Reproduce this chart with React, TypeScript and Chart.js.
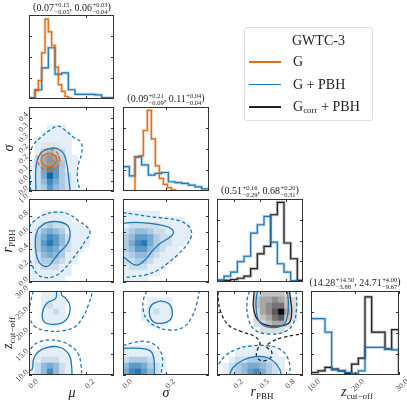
import React, { useEffect, useRef } from "react";
import { Chart, registerables } from "chart.js";
Chart.register(...registerables);

const W = 407;
const H = 404;
const FONT = "'Liberation Serif', 'DejaVu Serif', serif";
const BLUE = "#1f77b4";
const ORANGE = "#de6a12";
const BLACK = "#222222";

// ---------- axis ranges & ticks ----------
const muRange = [0, 0.3];
const sigRange = [0, 0.4];
const rRange = [0, 1];
const zRange = [10, 30];
const histRange = [0, 1];

const muTicks = [0, 0.2];
const muTickLabels = ["0.0", "0.2"];
const sigXTicks = [0, 0.2];
const sigXTickLabels = ["0.0", "0.2"];
const sigYTicks = [0, 0.05, 0.1, 0.15, 0.2, 0.25, 0.3, 0.35];
const sigYTickLabels = ["0.0", "0.0", "0.1", "0.2", "0.2", "0.3", "0.3", "0.4"];
const rXTicks = [0.2, 0.5, 0.8];
const rXTickLabels = ["0.2", "0.5", "0.8"];
const rYTicks = [0, 0.2, 0.4, 0.6, 0.8, 1.0];
const rYTickLabels = ["0.0", "0.2", "0.4", "0.6", "0.8", "1.0"];
const zXTicks = [10, 20, 30];
const zXTickLabels = ["10.0", "20.0", "30.0"];
const zYTicks = [10, 15, 20, 25, 30];
const zYTickLabels = ["10.0", "15.0", "20.0", "25.0", "30.0"];
const histTicks = [0.25, 0.5, 0.75];

// ---------- 1D histograms ----------
const muEdgesG = [0.0212, 0.0329, 0.0447, 0.0565, 0.0682, 0.08, 0.0918, 0.1035, 0.1153, 0.1271, 0.1388, 0.1506];
const muHistG = [0.1, 0.22, 0.55, 0.95, 0.8, 0.64, 0.38, 0.17, 0.09, 0.03, 0.01];
const muEdgesGP = [0, 0.0212, 0.0447, 0.0682, 0.0918, 0.1153, 0.1388, 0.1624, 0.1859, 0.2094, 0.2329, 0.2565, 0.28, 0.3];
const muHistGP = [0.016, 0.11, 0.37, 0.61, 0.295, 0.31, 0.11, 0.056, 0.056, 0.056, 0.048, 0.016, 0.016];

const sigEdgesG = [0.0558, 0.076, 0.0946, 0.1132, 0.1318, 0.1504, 0.169, 0.1876, 0.2062, 0.2248, 0.2434];
const sigHistG = [0.4, 0.42, 0.72, 0.96, 0.62, 0.3, 0.15, 0.08, 0.04, 0.015];
const sigEdgesGP = [0, 0.0295, 0.0558, 0.0868, 0.1178, 0.1488, 0.1798, 0.2109, 0.2419, 0.2729, 0.3039, 0.3349, 0.3659, 0.4];
const sigHistGP = [0.29, 0.18, 0.41, 0.31, 0.19, 0.21, 0.22, 0.11, 0.1, 0.09, 0.07, 0.05, 0.025];

const rEdges = [0, 0.0814, 0.159, 0.2364, 0.314, 0.3915, 0.469, 0.5465, 0.624, 0.7016, 0.779, 0.8566, 0.934, 1.0];
const rHistGP = [0.025, 0.07, 0.12, 0.245, 0.31, 0.59, 0.69, 0.79, 0.48, 0.22, 0.12, 0.016, 0.005];
const rHistGcP = [0.012, 0.02, 0.03, 0.045, 0.07, 0.16, 0.34, 0.43, 0.81, 0.96, 0.47, 0.28, 0.02];

const zEdges = [10, 11.59, 13.18, 14.7, 16.21, 17.73, 19.24, 20.76, 22.27, 23.79, 25.3, 26.82, 28.33, 30];
const zHistGP = [0.67, 0.67, 0.51, 0.06, 0.05, 0.03, 0.02, 0.05, 0.33, 0.33, 0.33, 0.31, 0.3];
const zHistGcP = [0.03, 0.05, 0.09, 0.07, 0.05, 0.02, 0.13, 0.2, 0.93, 0.51, 0.51, 0.31, 0.54];

// ---------- 2D density grids (14x14 bins, rows from bottom, 0-9) ----------
const NBIN = 14;
const muSigGridGP = [
  [1, 2, 3, 6, 4, 3, 2, 1],
  [1, 2, 4, 7, 5, 3, 2, 1],
  [1, 2, 5, 9, 6, 3, 2, 1],
  [1, 2, 5, 7, 6, 3, 1, 1],
  [1, 2, 4, 5, 5, 3, 1, 1],
  [0, 2, 4, 5, 4, 2, 1, 1],
  [0, 1, 2, 3, 2, 2, 1],
  [0, 1, 1, 1, 1, 1, 1],
  [0, 1, 1, 1, 1, 1, 1],
  [0, 0, 1, 1, 1, 1, 1],
  [0, 0, 0, 1, 1, 1],
];
const muSigGridG = [[], [], [], [0, 0, 1, 2, 1], [0, 1, 2, 4, 2, 1], [0, 1, 3, 5, 3, 1], [0, 0, 2, 3, 2], [0, 0, 1, 1, 1]];
const muRGridGP = [
  [1, 1, 1, 1, 1, 1],
  [1, 1, 1, 1, 1, 1, 1],
  [1, 1, 2, 2, 2, 1, 1],
  [1, 2, 3, 3, 3, 2, 1, 1],
  [1, 2, 4, 5, 4, 3, 1, 1],
  [1, 3, 5, 6, 5, 3, 2, 1, 1],
  [1, 3, 6, 8, 6, 4, 2, 1, 1, 1],
  [1, 3, 5, 7, 6, 4, 2, 1, 1, 1],
  [1, 2, 4, 5, 4, 3, 1, 1, 1, 1],
  [1, 1, 2, 3, 2, 2, 1, 1, 1],
  [0, 1, 1, 1, 1, 1, 1],
  [0, 0, 1, 1, 1, 1],
];
const muZGridGP = [
  [1, 2, 4, 7, 4, 2, 1],
  [1, 2, 4, 5, 4, 2, 1],
  [1, 1, 2, 2, 2, 1, 1],
  [0, 1, 1, 1, 1, 1],
  [0, 0, 1, 1, 1],
  [], [], [],
  [0, 0, 0, 1, 1],
  [0, 0, 1, 1, 1, 1],
  [0, 0, 1, 1, 2, 1],
  [0, 0, 1, 2, 1, 1],
  [0, 0, 1, 1, 1, 1],
  [0, 0, 1, 1, 1],
];
const sigRGridGP = [
  [1, 1, 1, 1],
  [1, 1, 1, 1, 1, 1],
  [1, 2, 2, 2, 1, 1, 1],
  [2, 2, 3, 3, 2, 1, 1, 1],
  [2, 3, 4, 4, 3, 2, 1, 1, 1],
  [3, 4, 6, 6, 4, 3, 2, 1, 1],
  [3, 5, 7, 8, 5, 3, 2, 2, 1, 1],
  [3, 4, 6, 6, 5, 3, 2, 2, 1, 1, 1],
  [2, 3, 4, 4, 3, 2, 2, 1, 1, 1, 1],
  [1, 2, 2, 2, 2, 2, 1, 1, 1, 1, 1],
  [1, 1, 1, 1, 1, 1, 1, 1, 1, 1],
  [1, 1, 1, 1, 1, 1],
];
const sigZGridGP = [
  [5, 7, 8, 6, 4, 2, 1],
  [4, 6, 6, 5, 3, 2, 1],
  [2, 3, 3, 3, 2, 1, 1],
  [1, 1, 1, 1, 1, 1],
  [1, 1, 1, 1, 1],
  [], [], [],
  [0, 0, 0, 0, 1, 1, 1],
  [0, 0, 0, 1, 1, 1, 1, 1],
  [0, 0, 0, 1, 1, 2, 1, 1],
  [0, 0, 0, 0, 1, 1, 1, 1],
  [0, 0, 0, 0, 1, 1, 1, 1],
];
const rZGridGP = [
  [0, 1, 2, 3, 4, 6, 7, 5, 3, 2, 1],
  [0, 1, 2, 3, 4, 5, 5, 4, 3, 2, 1],
  [0, 0, 1, 2, 2, 3, 3, 3, 2, 1, 1],
  [0, 0, 0, 1, 1, 1, 1, 1, 1, 1],
  [0, 0, 0, 0, 1, 1, 1, 1, 1],
];
const rZGridGcP = [
  [], [], [], [], [], [], [],
  [0, 0, 0, 0, 0, 0, 0, 1, 1, 1, 1],
  [0, 0, 0, 0, 0, 0, 1, 1, 2, 3, 3, 1],
  [0, 0, 0, 0, 0, 0, 1, 2, 3, 5, 6, 2, 1],
  [0, 0, 0, 0, 0, 0, 1, 3, 4, 6, 9, 3, 1],
  [0, 0, 0, 0, 0, 0, 2, 3, 4, 5, 5, 2, 1],
  [0, 0, 0, 0, 0, 0, 2, 3, 3, 4, 3, 2, 1],
  [0, 0, 0, 0, 0, 0, 1, 2, 2, 2, 2, 1],
];

// ---------- contours (x, y) ----------
const muSig_GP_68 = [[0.0247, 0], [0.0235, 0.092], [0.0294, 0.148], [0.0447, 0.184], [0.074, 0.203], [0.1035, 0.2], [0.1235, 0.175], [0.133, 0.132], [0.139, 0.076], [0.145, 0]];
const muSig_GP_95 = [[0.0059, 0], [0.0035, 0.076], [0.001, 0.163], [0.0153, 0.219], [0.0447, 0.259], [0.074, 0.29], [0.1035, 0.309], [0.133, 0.283], [0.162, 0.251], [0.1836, 0.232], [0.186, 0.179], [0.1753, 0.132], [0.1706, 0.068], [0.18, 0]];
const muSig_G_68 = [[0.0986, 0.148], [0.0904, 0.1706], [0.0706, 0.18], [0.0508, 0.1706], [0.0426, 0.148], [0.0508, 0.1254], [0.0706, 0.116], [0.0904, 0.1254], [0.0986, 0.148]];
const muSig_G_95 = [[0.1096, 0.148], [0.0982, 0.184], [0.0706, 0.199], [0.043, 0.184], [0.0316, 0.148], [0.043, 0.112], [0.0706, 0.097], [0.0982, 0.112], [0.1096, 0.148]];

const muR_GP_68 = [[0.033, 0.646], [0.0624, 0.715], [0.1094, 0.723], [0.1388, 0.667], [0.1447, 0.546], [0.133, 0.446], [0.1094, 0.365], [0.0859, 0.265], [0.0682, 0.193], [0.0447, 0.205], [0.0294, 0.285], [0.0224, 0.426], [0.0235, 0.546], [0.033, 0.646]];
const muR_GP_95 = [[0, 0.659], [0.0153, 0.727], [0.0506, 0.807], [0.0976, 0.843], [0.1388, 0.819], [0.1741, 0.739], [0.2059, 0.659], [0.2153, 0.586], [0.2012, 0.506], [0.1777, 0.386], [0.1506, 0.265], [0.1212, 0.145], [0.0918, 0.072], [0.0624, 0.052], [0.033, 0.084], [0.0129, 0.185], [0.0012, 0.285]];

const muZ_GP_68_lo = [[0, 11.1], [0.011, 11.3], [0.0165, 13.9], [0.033, 15.55], [0.0624, 16.51], [0.0976, 16.75], [0.127, 15.95], [0.1447, 14.37], [0.1506, 11.98], [0.1518, 10]];
const muZ_GP_95_lo = [[0, 14.76], [0.0118, 16.75], [0.0388, 17.94], [0.074, 18.33], [0.1153, 17.94], [0.1506, 16.75], [0.1741, 15.0], [0.1836, 12.38], [0.186, 10]];
const muZ_GP_68_hi = [[0.0976, 30], [0.094, 28.25], [0.0624, 27.06], [0.0471, 24.68], [0.0529, 22.7], [0.08, 22.06], [0.1188, 22.46], [0.1412, 24.29], [0.1435, 26.67], [0.1294, 28.25], [0.1153, 29.05], [0.1141, 30]];
const muZ_GP_95_hi = [[0.0153, 30], [0.0071, 27.86], [0.001, 25.08], [0.0035, 23.49], [0.0212, 21.51], [0.0624, 20.55], [0.1212, 20.55], [0.1624, 21.51], [0.1918, 23.89], [0.2094, 26.67], [0.2247, 29.84], [0.2259, 30]];

const sigR_GP_68 = [[0, 0.707], [0.048, 0.719], [0.1256, 0.707], [0.1876, 0.679], [0.2264, 0.639], [0.2341, 0.586], [0.2109, 0.526], [0.169, 0.458], [0.1333, 0.365], [0.1023, 0.265], [0.0713, 0.205], [0.045, 0.217], [0.0202, 0.265], [0, 0.305]];
const sigR_GP_95 = [[0, 0.835], [0.048, 0.819], [0.1256, 0.787], [0.2031, 0.767], [0.2651, 0.735], [0.3039, 0.675], [0.3194, 0.578], [0.2992, 0.458], [0.2574, 0.337], [0.2109, 0.233], [0.1643, 0.145], [0.1101, 0.088], [0.0558, 0.068], [0.0031, 0.052]];

const sigZ_GP_68_lo = [[0, 16.35], [0.0775, 16.35], [0.1256, 15.79], [0.1411, 14.52], [0.1457, 12.38], [0.1457, 10]];
const sigZ_GP_95_lo = [[0, 16.98], [0.048, 17.7], [0.1023, 18.02], [0.1488, 17.14], [0.1752, 15.55], [0.1845, 13.17], [0.1752, 10]];
const sigZ_GP_68_hi = [[0.1721, 27.62], [0.2109, 27.06], [0.2295, 25.08], [0.2186, 23.1], [0.1798, 22.3], [0.1411, 22.7], [0.1225, 24.68], [0.1333, 26.67], [0.1721, 27.62]];
const sigZ_GP_95_hi = [[0.1101, 30], [0.0946, 27.86], [0.0946, 25.32], [0.1132, 23.1], [0.1566, 21.51], [0.2186, 20.71], [0.2806, 21.35], [0.3194, 23.73], [0.3426, 26.9], [0.355, 30]];

const rZ_GP_68_lo = [[0.1434, 10], [0.19, 11.83], [0.306, 13.57], [0.4419, 14.37], [0.5775, 14.21], [0.6744, 12.94], [0.7326, 11.19], [0.7442, 10]];
const rZ_GP_95_lo = [[0, 11.19], [0.0155, 12.38], [0.093, 14.52], [0.2287, 16.11], [0.3837, 16.9], [0.5775, 16.98], [0.7326, 16.11], [0.8178, 14.21], [0.8488, 11.98], [0.8411, 10]];
const rZ_GP_68_hi = [[0.469, 30], [0.4535, 26.67], [0.4922, 22.7], [0.6163, 21.35], [0.7713, 21.9], [0.8178, 23.89], [0.8295, 27.06], [0.8178, 30]];
const rZ_GP_95_hi = [[0.376, 30], [0.3488, 27.46], [0.3643, 23.49], [0.4419, 20.71], [0.6163, 19.76], [0.7907, 20.32], [0.8876, 22.3], [0.9264, 26.27], [0.9186, 30]];
const rZ_GP_95_corner = [[0, 29.1], [0.025, 30]];
const rZ_Gc_68 = [[0.434, 30], [0.4225, 26.27], [0.469, 23.25], [0.5775, 21.9], [0.7326, 21.67], [0.8411, 22.46], [0.8682, 25.08], [0.8566, 27.86], [0.8411, 30]];
const rZ_Gc_95 = [[0.0155, 29.84], [0.0155, 27.86], [0.0426, 25.08], [0.1318, 21.9], [0.2868, 20.32], [0.4419, 19.13], [0.5, 17.54], [0.469, 15.95], [0.4612, 14.37], [0.5194, 13.41], [0.6163, 13.97], [0.6357, 15.55], [0.5775, 16.75], [0.6357, 17.94], [0.7713, 18.97], [0.907, 19.52], [1.0, 19.76]];

// ---------- titles ----------
const muTitle = [["0.07", "0.15", "0.05"], ["0.06", "0.03", "0.04"]];
const sigTitle = [["0.09", "0.21", "0.09"], ["0.11", "0.04", "0.04"]];
const rTitle = [["0.51", "0.16", "0.29"], ["0.68", "0.20", "0.31"]];
const zTitle = [["14.28", "14.50", "3.88"], ["24.71", "4.00", "9.67"]];

// ---------- layout (styles) ----------
const colX = [29, 123, 217, 311];
const colW = [85, 86, 86, 88];
const rowY = [15, 107, 199, 291];
const rowH = [84, 84, 83, 84];

function hexA(hex: string, a: number) {
  const n = parseInt(hex.slice(1), 16);
  return `rgba(${(n >> 16) & 255},${(n >> 8) & 255},${n & 255},${a})`;
}
const blueCell = (v: number) => {
  const t = v / 9;
  return `rgb(${Math.round(255 - 243 * t)},${Math.round(255 - 152 * t)},${Math.round(255 - 82 * t)})`;
};
const grayCell = (v: number) => {
  const g = Math.round(246 - (v / 9) * 236);
  return `rgb(${g},${g},${g})`;
};
const orangeCell = (v: number) => hexA(ORANGE, 0.07 * v);

function hist(edges: number[], h: number[], color: string) {
  const pts: any[] = [{ x: edges[0], y: 0 }];
  h.forEach((v, i) => {
    pts.push({ x: edges[i], y: v });
    pts.push({ x: edges[i + 1], y: v });
  });
  pts.push({ x: edges[edges.length - 1], y: 0 });
  return [
    { type: "line", data: pts, borderColor: hexA(color, 0.3), borderWidth: 3, pointRadius: 0, tension: 0, order: 1 },
    { type: "line", data: pts, borderColor: color, borderWidth: 1.2, pointRadius: 0, tension: 0, order: 0 },
  ];
}

function heat(grid: number[][], xr: number[], yr: number[], colorOf: (v: number) => string, order: number) {
  const dx = (xr[1] - xr[0]) / NBIN;
  const dy = (yr[1] - yr[0]) / NBIN;
  return grid.map((row, j) => {
    const cells = row.map((v, k) => ({ v, k })).filter((c) => c.v > 0);
    return {
      type: "bar",
      data: cells.map((c) => ({ x: xr[0] + (c.k + 0.5) * dx, y: [yr[0] + j * dy, yr[0] + (j + 1) * dy] })),
      backgroundColor: cells.map((c) => colorOf(c.v)),
      borderWidth: 0,
      grouped: false,
      categoryPercentage: 1,
      barPercentage: 1,
      order,
    };
  });
}

function contour(pts: number[][], color: string, dashed: boolean) {
  return {
    type: "line",
    data: pts.map(([x, y]) => ({ x, y })),
    borderColor: color,
    borderWidth: 1.3,
    borderDash: dashed ? [3.5, 2.5] : [],
    pointRadius: 0,
    tension: 0.4,
    fill: false,
    order: 0,
  };
}

const framePlugin = {
  id: "frame",
  afterDatasetsDraw(chart: any) {
    const { ctx, chartArea: a, scales } = chart;
    ctx.save();
    ctx.strokeStyle = "#333";
    ctx.lineWidth = 1;
    const L = 3;
    ctx.beginPath();
    scales.x.ticks.forEach((t: any) => {
      const p = Math.round(scales.x.getPixelForValue(t.value)) + 0.5;
      ctx.moveTo(p, a.bottom);
      ctx.lineTo(p, a.bottom - L);
      ctx.moveTo(p, a.top);
      ctx.lineTo(p, a.top + L);
    });
    scales.y.ticks.forEach((t: any) => {
      const p = Math.round(scales.y.getPixelForValue(t.value)) + 0.5;
      ctx.moveTo(a.left, p);
      ctx.lineTo(a.left + L, p);
      ctx.moveTo(a.right, p);
      ctx.lineTo(a.right - L, p);
    });
    ctx.stroke();
    ctx.strokeRect(a.left + 0.5, a.top + 0.5, a.width - 1, a.height - 1);
    ctx.restore();
  },
};

function axis(pos: "bottom" | "left", range: number[], ticks: number[], labels: string[] | null, size: number) {
  return {
    type: "linear",
    position: pos,
    min: range[0],
    max: range[1],
    offset: false,
    grid: { display: false, drawTicks: false },
    border: { display: false },
    afterBuildTicks: (s: any) => {
      s.ticks = ticks.map((v) => ({ value: v }));
    },
    afterFit: (s: any) => {
      if (pos === "bottom") s.height = size;
      else s.width = size;
      s.paddingLeft = 0;
      s.paddingRight = 0;
      s.paddingTop = 0;
      s.paddingBottom = 0;
    },
    ticks: {
      display: !!labels,
      autoSkip: false,
      minRotation: 45,
      maxRotation: 45,
      padding: 2,
      labelOffset: pos === "bottom" ? 8 : -4,
      font: { family: FONT, size: 8 },
      color: "#444",
      callback: (_v: any, i: number) => (labels ? labels[i] ?? "" : ""),
    },
  };
}

type Spec = {
  c: number; r: number;
  xr: number[]; yr: number[];
  xT: number[]; yT: number[];
  xL: string[] | null; yL: string[] | null;
  ds: any[];
};

const panels: Spec[] = [
  { c: 0, r: 0, xr: muRange, yr: histRange, xT: muTicks, yT: histTicks, xL: null, yL: null,
    ds: [...hist(muEdgesG, muHistG, ORANGE), ...hist(muEdgesGP, muHistGP, BLUE)] },
  { c: 0, r: 1, xr: muRange, yr: sigRange, xT: muTicks, yT: sigYTicks, xL: null, yL: sigYTickLabels,
    ds: [
      ...heat(muSigGridGP, muRange, sigRange, blueCell, 6),
      ...heat(muSigGridG, muRange, sigRange, orangeCell, 5),
      contour(muSig_GP_68, BLUE, false), contour(muSig_GP_95, BLUE, true),
      contour(muSig_G_68, ORANGE, false), contour(muSig_G_95, ORANGE, true),
    ] },
  { c: 1, r: 1, xr: sigRange, yr: histRange, xT: sigXTicks, yT: histTicks, xL: null, yL: null,
    ds: [...hist(sigEdgesG, sigHistG, ORANGE), ...hist(sigEdgesGP, sigHistGP, BLUE)] },
  { c: 0, r: 2, xr: muRange, yr: rRange, xT: muTicks, yT: rYTicks, xL: null, yL: rYTickLabels,
    ds: [...heat(muRGridGP, muRange, rRange, blueCell, 6), contour(muR_GP_68, BLUE, false), contour(muR_GP_95, BLUE, true)] },
  { c: 1, r: 2, xr: sigRange, yr: rRange, xT: sigXTicks, yT: rYTicks, xL: null, yL: null,
    ds: [...heat(sigRGridGP, sigRange, rRange, blueCell, 6), contour(sigR_GP_68, BLUE, false), contour(sigR_GP_95, BLUE, true)] },
  { c: 2, r: 2, xr: rRange, yr: histRange, xT: rXTicks, yT: histTicks, xL: null, yL: null,
    ds: [...hist(rEdges, rHistGP, BLUE), ...hist(rEdges, rHistGcP, BLACK)] },
  { c: 0, r: 3, xr: muRange, yr: zRange, xT: muTicks, yT: zYTicks, xL: muTickLabels, yL: zYTickLabels,
    ds: [
      ...heat(muZGridGP, muRange, zRange, blueCell, 6),
      contour(muZ_GP_68_lo, BLUE, false), contour(muZ_GP_95_lo, BLUE, true),
      contour(muZ_GP_68_hi, BLUE, false), contour(muZ_GP_95_hi, BLUE, true),
    ] },
  { c: 1, r: 3, xr: sigRange, yr: zRange, xT: sigXTicks, yT: zYTicks, xL: sigXTickLabels, yL: null,
    ds: [
      ...heat(sigZGridGP, sigRange, zRange, blueCell, 6),
      contour(sigZ_GP_68_lo, BLUE, false), contour(sigZ_GP_95_lo, BLUE, true),
      contour(sigZ_GP_68_hi, BLUE, false), contour(sigZ_GP_95_hi, BLUE, true),
    ] },
  { c: 2, r: 3, xr: rRange, yr: zRange, xT: rXTicks, yT: zYTicks, xL: rXTickLabels, yL: null,
    ds: [
      ...heat(rZGridGP, rRange, zRange, blueCell, 6),
      ...heat(rZGridGcP, rRange, zRange, grayCell, 6),
      contour(rZ_GP_68_lo, BLUE, false), contour(rZ_GP_95_lo, BLUE, true),
      contour(rZ_GP_68_hi, BLUE, false), contour(rZ_GP_95_hi, BLUE, true),
      contour(rZ_GP_95_corner, BLUE, true),
      contour(rZ_Gc_68, BLACK, false), contour(rZ_Gc_95, BLACK, true),
    ] },
  { c: 3, r: 3, xr: zRange, yr: histRange, xT: zXTicks, yT: histTicks, xL: zXTickLabels, yL: null,
    ds: [...hist(zEdges, zHistGP, BLUE), ...hist(zEdges, zHistGcP, BLACK)] },
];

function PanelChart({ spec }: { spec: Spec }) {
  const ref = useRef<HTMLCanvasElement>(null);
  useEffect(() => {
    const x0 = colX[spec.c], w = colW[spec.c], y0 = rowY[spec.r], h = rowH[spec.r];
    const below = H - y0 - h;
    const yAxisW = spec.yL ? x0 : 0;
    const xAxisH = spec.xL ? below : 0;
    const chart = new Chart(ref.current as HTMLCanvasElement, {
      type: "line",
      data: { datasets: spec.ds },
      options: {
        animation: false,
        responsive: false,
        devicePixelRatio: 1,
        events: [],
        layout: { autoPadding: false, padding: { left: x0 - yAxisW, top: y0, right: W - x0 - w, bottom: below - xAxisH } },
        plugins: { legend: { display: false }, tooltip: { enabled: false }, title: { display: false } },
        scales: {
          x: axis("bottom", spec.xr, spec.xT, spec.xL, xAxisH),
          y: axis("left", spec.yr, spec.yT, spec.yL, yAxisW),
        },
      } as any,
      plugins: [framePlugin],
    } as any);
    return () => chart.destroy();
  }, []);
  return (
    <canvas ref={ref} width={W} height={H}
      style={{ position: "absolute", left: 0, top: 0, width: W, height: H, pointerEvents: "none" }} />
  );
}

function Stat({ v }: { v: string[] }) {
  return (
    <span>
      {v[0]}
      <span style={{ display: "inline-flex", flexDirection: "column", fontSize: 6.5, lineHeight: "6.5px", verticalAlign: "3.5px", marginLeft: 0.5 }}>
        <span>+{v[1]}</span>
        <span>−{v[2]}</span>
      </span>
    </span>
  );
}

function Title({ vals, cx, cy }: { vals: string[][]; cx: number; cy: number }) {
  return (
    <div style={{ position: "absolute", left: cx, top: cy, transform: "translate(-50%,-50%)", whiteSpace: "nowrap", fontSize: 10, lineHeight: 1, color: "#222" }}>
      (<Stat v={vals[0]} />, <Stat v={vals[1]} />)
    </div>
  );
}

function Label({ cx, cy, rot, children }: { cx: number; cy: number; rot?: boolean; children: any }) {
  return (
    <div style={{ position: "absolute", left: cx, top: cy, transform: `translate(-50%,-50%)${rot ? " rotate(-90deg)" : ""}`, whiteSpace: "nowrap", fontSize: 14, lineHeight: 1, color: "#222" }}>
      {children}
    </div>
  );
}

const sub = { fontSize: 9, fontStyle: "normal" as const, verticalAlign: "-3px" };

export default function App() {
  const legendItems = [
    { color: ORANGE, label: <span>G</span> },
    { color: BLUE, label: <span>G + PBH</span> },
    { color: BLACK, label: <span>G<span style={{ fontSize: 9, verticalAlign: "-2px" }}>corr</span> + PBH</span> },
  ];
  return (
    <div style={{ position: "fixed", left: 0, top: 0, width: W, height: H, background: "#fff", overflow: "hidden", fontFamily: FONT }}>
      {panels.map((p, i) => (
        <PanelChart key={i} spec={p} />
      ))}
      <Title vals={muTitle} cx={72} cy={8} />
      <Title vals={sigTitle} cx={166} cy={99} />
      <Title vals={rTitle} cx={260} cy={191} />
      <Title vals={zTitle} cx={355} cy={283} />

      <Label cx={72} cy={393}><i>μ</i></Label>
      <Label cx={166} cy={393}><i>σ</i></Label>
      <Label cx={262} cy={393}><i>r</i><span style={sub}>PBH</span></Label>
      <Label cx={357} cy={393}><i>z</i><span style={sub}>cut−off</span></Label>
      <Label cx={9} cy={148} rot><i>σ</i></Label>
      <Label cx={9} cy={241} rot><i>r</i><span style={sub}>PBH</span></Label>
      <Label cx={9} cy={333} rot><i>z</i><span style={sub}>cut−off</span></Label>

      <div style={{ position: "absolute", left: 244, top: 27, width: 129, height: 94, border: "1px solid #dcdcdc", borderRadius: 3, boxSizing: "border-box", background: "#fff" }} />
      <div style={{ position: "absolute", left: 292, top: 41, transform: "translateY(-50%)", fontSize: 14, lineHeight: 1, color: "#222" }}>GWTC-3</div>
      {legendItems.map((it, i) => (
        <React.Fragment key={i}>
          <div style={{ position: "absolute", left: 249, top: 62 + i * 22.5 - 0.75, width: 32, height: 1.5, background: it.color }} />
          <div style={{ position: "absolute", left: 293, top: 62 + i * 22.5, transform: "translateY(-50%)", fontSize: 14, lineHeight: 1, color: "#222", whiteSpace: "nowrap" }}>
            {it.label}
          </div>
        </React.Fragment>
      ))}
    </div>
  );
}
